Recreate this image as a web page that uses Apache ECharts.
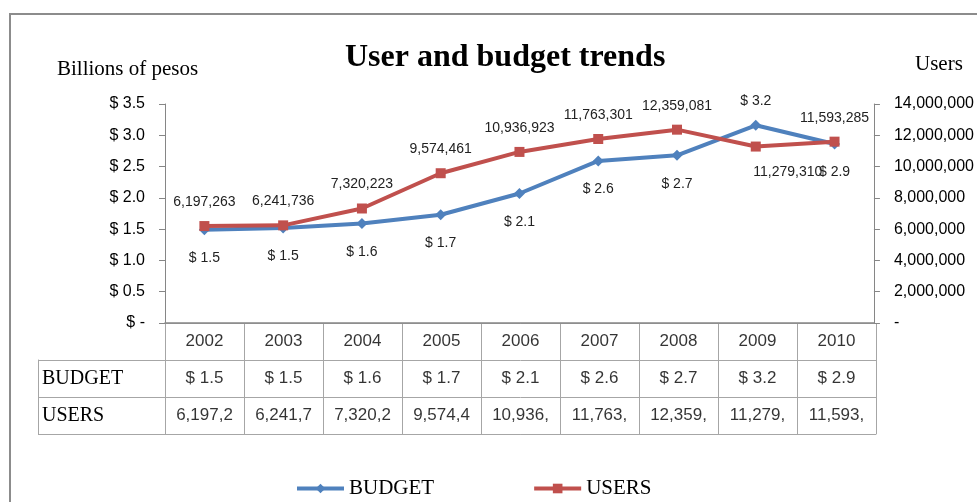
<!DOCTYPE html>
<html>
<head>
<meta charset="utf-8">
<title>User and budget trends</title>
<script src="https://cdn.jsdelivr.net/npm/echarts@6/dist/echarts.min.js"></script>
<style>
  html, body { margin: 0; padding: 0; background: #fff; }
  #chart { width: 977px; height: 502px; }
</style>
</head>
<body>
<div id="chart"></div>
<script>
// data
var years = ["2002", "2003", "2004", "2005", "2006", "2007", "2008", "2009", "2010"];
// budget, billions of pesos
var budget = [1.49, 1.52, 1.59, 1.73, 2.07, 2.59, 2.68, 3.16, 2.86];
// users
var users = [6197263, 6241736, 7320223, 9574461, 10936923, 11763301, 12359081, 11279310, 11593285];
// left and right tick labels
var budgetTicks = [0, 0.5, 1.0, 1.5, 2.0, 2.5, 3.0, 3.5];
var userTicks = [0, 2000000, 4000000, 6000000, 8000000, 10000000, 12000000, 14000000];
var rowNames = ["BUDGET", "USERS"];

var BLUE = "#4F81BD";
var RED = "#C0504D";
var numFont = "'Liberation Sans', Arial, sans-serif";
var serif = "'Liberation Serif', 'Times New Roman', serif";
var lineGray = "#a6a6a6";
var axisGray = "#868686";

function money(v) {
  return v === 0 ? "$ -" : "$ " + v.toFixed(1);
}
function thousands(v) {
  return v === 0 ? "-" : v.toLocaleString("en-US");
}

// labels that sit on the other side of the line
var budgetData = budget.map(function (v, i) {
  var item = { value: v };
  if (years[i] === "2009") {
    item.label = { position: "top", distance: 12 };
  }
  return item;
});
var userData = users.map(function (v, i) {
  var item = { value: v };
  if (years[i] === "2009") {
    item.label = { position: "bottom", distance: 14, offset: [32, 0] };
  }
  return item;
});

// cells of the data table under the chart
var cells = [];
years.forEach(function (y, i) {
  cells.push({ value: [i, 0], text: y });
  cells.push({ value: [i, 1], text: money(budget[i]) });
  cells.push({ value: [i, 2], text: thousands(users[i]).slice(0, 7) });
});

var chart = echarts.init(document.getElementById("chart"));

var option = {
  animation: false,
  title: [
    {
      text: "User and budget trends",
      left: 340,
      top: 37,
      textStyle: { fontFamily: serif, fontSize: 32, fontWeight: "bold", color: "#000" }
    },
    {
      text: "Billions of pesos",
      left: 52,
      top: 54,
      textStyle: { fontFamily: serif, fontSize: 21, fontWeight: "normal", color: "#000" }
    },
    {
      text: "Users",
      left: 910,
      top: 49,
      textStyle: { fontFamily: serif, fontSize: 21, fontWeight: "normal", color: "#000" }
    }
  ],
  // frame round the whole chart
  graphic: [
    {
      type: "rect",
      shape: { x: 10, y: 14, width: 1100, height: 600 },
      style: { fill: "none", stroke: "#8c8c8c", lineWidth: 2 },
      silent: true
    }
  ],
  legend: {
    data: ["BUDGET", "USERS"],
    left: 290,
    top: 473,
    itemWidth: 47,
    itemHeight: 12,
    itemGap: 98,
    lineStyle: { width: 4 },
    textStyle: { fontFamily: serif, fontSize: 21, color: "#000" }
  },
  grid: [
    { left: 165, width: 711, top: 104, height: 219 },   // plot
    { left: 165, width: 711, top: 323, height: 111 },   // table
    { left: 38, width: 127, top: 360, height: 74 }      // row headers
  ],
  xAxis: [
    {
      gridIndex: 0,
      type: "category",
      data: years,
      axisLine: { lineStyle: { color: axisGray, width: 1.5 } },
      axisTick: { show: false },
      axisLabel: { show: false },
      splitLine: { show: false }
    },
    {
      gridIndex: 1,
      type: "category",
      data: years,
      axisLine: { show: true, lineStyle: { color: lineGray } },
      axisTick: { show: false },
      axisLabel: { show: false },
      splitLine: { show: true, lineStyle: { color: lineGray } }
    },
    {
      gridIndex: 2,
      type: "category",
      data: [""],
      axisLine: { show: false },
      axisTick: { show: false },
      axisLabel: { show: false },
      splitLine: { show: true, lineStyle: { color: lineGray } }
    }
  ],
  yAxis: [
    {
      gridIndex: 0,
      type: "value",
      min: 0,
      max: 3.5,
      interval: 0.5,
      axisLine: { show: true, lineStyle: { color: axisGray } },
      axisTick: { show: true, length: 6, lineStyle: { color: axisGray } },
      splitLine: { show: false },
      axisLabel: {
        formatter: money,
        margin: 20,
        fontFamily: numFont,
        fontSize: 16,
        color: "#000",
        customValues: budgetTicks
      }
    },
    {
      gridIndex: 0,
      type: "value",
      position: "right",
      min: 0,
      max: 14000000,
      interval: 2000000,
      axisLine: { show: true, lineStyle: { color: axisGray } },
      axisTick: { show: true, length: 6, lineStyle: { color: axisGray } },
      splitLine: { show: false },
      axisLabel: {
        formatter: thousands,
        margin: 20,
        fontFamily: numFont,
        fontSize: 16,
        color: "#000",
        customValues: userTicks
      }
    },
    {
      gridIndex: 1,
      type: "category",
      inverse: true,
      data: ["year", "budget", "users"],
      axisLine: { show: true, lineStyle: { color: lineGray } },
      axisTick: { show: false },
      axisLabel: { show: false },
      splitLine: { show: true, lineStyle: { color: lineGray } }
    },
    {
      gridIndex: 2,
      type: "category",
      inverse: true,
      data: rowNames,
      axisLine: { show: true, lineStyle: { color: lineGray } },
      axisTick: { show: false },
      axisLabel: {
        inside: true,
        margin: 4,
        fontFamily: serif,
        fontSize: 20,
        color: "#000"
      },
      splitLine: { show: true, lineStyle: { color: lineGray } }
    }
  ],
  series: [
    {
      name: "BUDGET",
      type: "line",
      xAxisIndex: 0,
      yAxisIndex: 0,
      data: budgetData,
      symbol: "diamond",
      symbolSize: 11,
      itemStyle: { color: BLUE },
      lineStyle: { color: BLUE, width: 4 },
      label: {
        show: true,
        position: "bottom",
        distance: 16,
        formatter: function (p) { return money(p.value); },
        fontFamily: numFont,
        fontSize: 14,
        color: "#222"
      }
    },
    {
      name: "USERS",
      type: "line",
      xAxisIndex: 0,
      yAxisIndex: 1,
      data: userData,
      symbol: "rect",
      symbolSize: 10,
      itemStyle: { color: RED },
      lineStyle: { color: RED, width: 4 },
      label: {
        show: true,
        position: "top",
        distance: 12,
        formatter: function (p) { return thousands(p.value); },
        fontFamily: numFont,
        fontSize: 14,
        color: "#222"
      }
    },
    {
      name: "table",
      type: "scatter",
      xAxisIndex: 1,
      yAxisIndex: 2,
      silent: true,
      symbolSize: 1,
      itemStyle: { color: "transparent" },
      data: cells,
      label: {
        show: true,
        position: "inside",
        formatter: function (p) { return p.data.text; },
        fontFamily: numFont,
        fontSize: 17,
        color: "#000"
      }
    }
  ]
};

chart.setOption(option);
</script>
</body>
</html>
